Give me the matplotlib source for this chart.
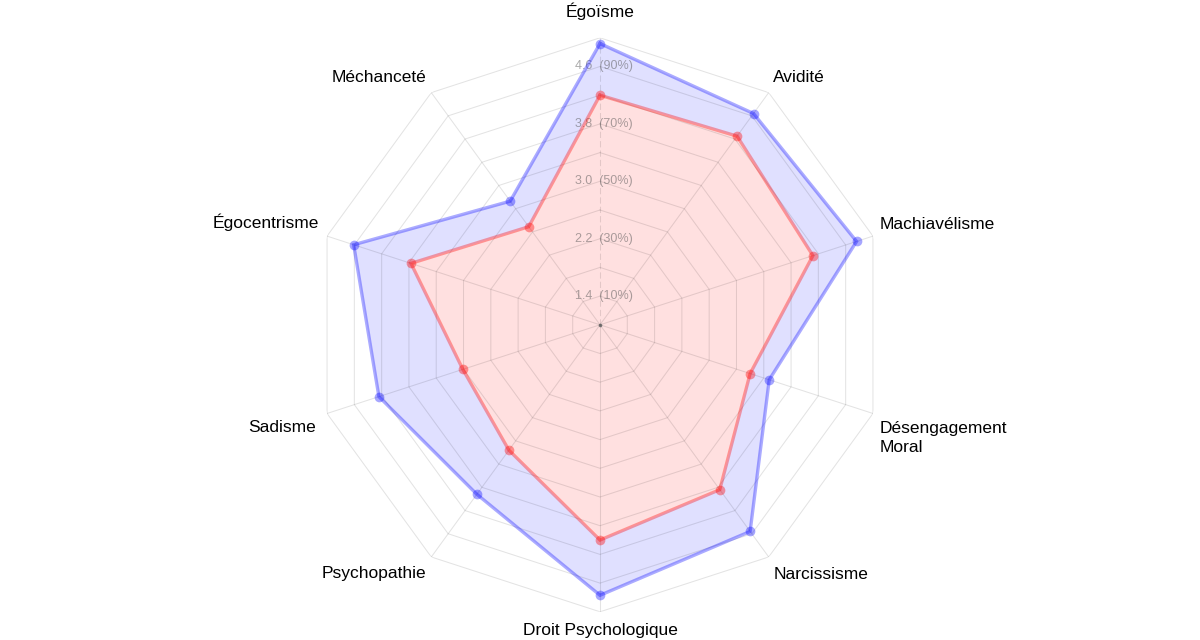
import numpy as np
import matplotlib
matplotlib.use("Agg")
import matplotlib.pyplot as plt

plt.rcParams['font.family'] = ['Liberation Sans', 'DejaVu Sans']

categories = ["Égoïsme", "Avidité", "Machiavélisme", "Désengagement\nMoral",
              "Narcissisme", "Droit Psychologique", "Psychopathie", "Sadisme",
              "Égocentrisme", "Méchanceté"]
series_blue = [4.92, 4.64, 4.76, 3.48, 4.56, 4.77, 3.92, 4.24, 4.61, 3.13]
series_red = [4.20, 4.25, 4.12, 3.20, 3.84, 4.00, 3.16, 3.01, 3.77, 2.69]
ring_values = [1.4, 1.8, 2.2, 2.6, 3.0, 3.4, 3.8, 4.2, 4.6, 5.0]
tick_values = [1.4, 2.2, 3.0, 3.8, 4.6]
tick_labels = ["1.4  (10%)", "2.2  (30%)", "3.0  (50%)", "3.8  (70%)", "4.6  (90%)"]
r_min, r_max = 1.0, 5.0

# label layout: (dx px, dy px of last-line baseline, ha)
label_layout = [(0, 21, 'center'), (4.6, 11, 'left'), (7, 6.8, 'left'),
                (7, -38.5, 'left'), (4.6, -22.3, 'left'), (0, -23.2, 'center'),
                (-4.6, -21.3, 'right'), (-11.5, -18.8, 'right'), (-7.7, 8, 'right'),
                (-4.6, 11, 'right')]

W, H, DPI = 1200, 640, 100
fig = plt.figure(figsize=(W / DPI, H / DPI), dpi=DPI)
cx, cy, R = 600, 640 - 324.8, 287
ax = fig.add_axes([(cx - R) / W, (cy - R) / H, 2 * R / W, 2 * R / H], projection='polar')
ax.set_theta_zero_location('N')
ax.set_theta_direction(-1)
ax.set_ylim(r_min, r_max)
ax.axis('off')

n = len(categories)
theta = np.deg2rad(np.arange(n) * 360.0 / n)
tc = np.append(theta, theta[0])

blue = np.append(series_blue, series_blue[0])
red = np.append(series_red, series_red[0])

# fills
ax.fill(tc, blue, color=(0, 0, 1, 0.12), lw=0, zorder=1)
ax.fill(tc, red, color='white', lw=0, zorder=2)
ax.fill(tc, red, color=(1, 0, 0, 0.12), lw=0, zorder=3)

# grid
gcol = (0, 0, 0, 0.11)
for rv in ring_values:
    ax.plot(tc, [rv] * (n + 1), color=gcol, lw=0.75, zorder=4)
for i, t in enumerate(theta):
    if i == 0:
        ax.plot([t, t], [r_min, r_max], color=gcol, lw=0.75, zorder=4, dashes=(6, 3))
    else:
        ax.plot([t, t], [r_min, r_max], color=gcol, lw=0.75, zorder=4)
ax.plot([0], [r_min], marker='o', ms=1.6, color=(0.4, 0.4, 0.4, 0.8), zorder=4)

# tick labels
for tv, tl in zip(tick_values, tick_labels):
    ax.annotate(tl, xy=(0, tv), xytext=(2.5, 0), textcoords='offset points',
                ha='center', va='center', fontsize=9, color=(0.33, 0.33, 0.33, 0.5), zorder=5)

# series
ax.plot(tc, blue, color=(0, 0, 1, 0.33), lw=2.4, zorder=6, solid_joinstyle='miter')
ax.plot(theta, series_blue, ls='none', marker='o', ms=7, mew=0,
        color=(0, 0, 1, 0.35), zorder=7)
ax.plot(tc, red, color=(1, 0, 0, 0.35), lw=2.4, zorder=6, solid_joinstyle='miter')
ax.plot(theta, series_red, ls='none', marker='o', ms=7, mew=0,
        color=(1, 0, 0, 0.38), zorder=7)

# category labels
for t, lab, (dx, dy, ha) in zip(theta, categories, label_layout):
    ax.annotate(lab, xy=(t, r_max), xytext=(dx * 0.72, dy * 0.72),
                textcoords='offset points', ha=ha, va='baseline', linespacing=1.3,
                multialignment='left',
                fontsize=12.5, color='black', annotation_clip=False)

fig.savefig('out.png', dpi=DPI)
